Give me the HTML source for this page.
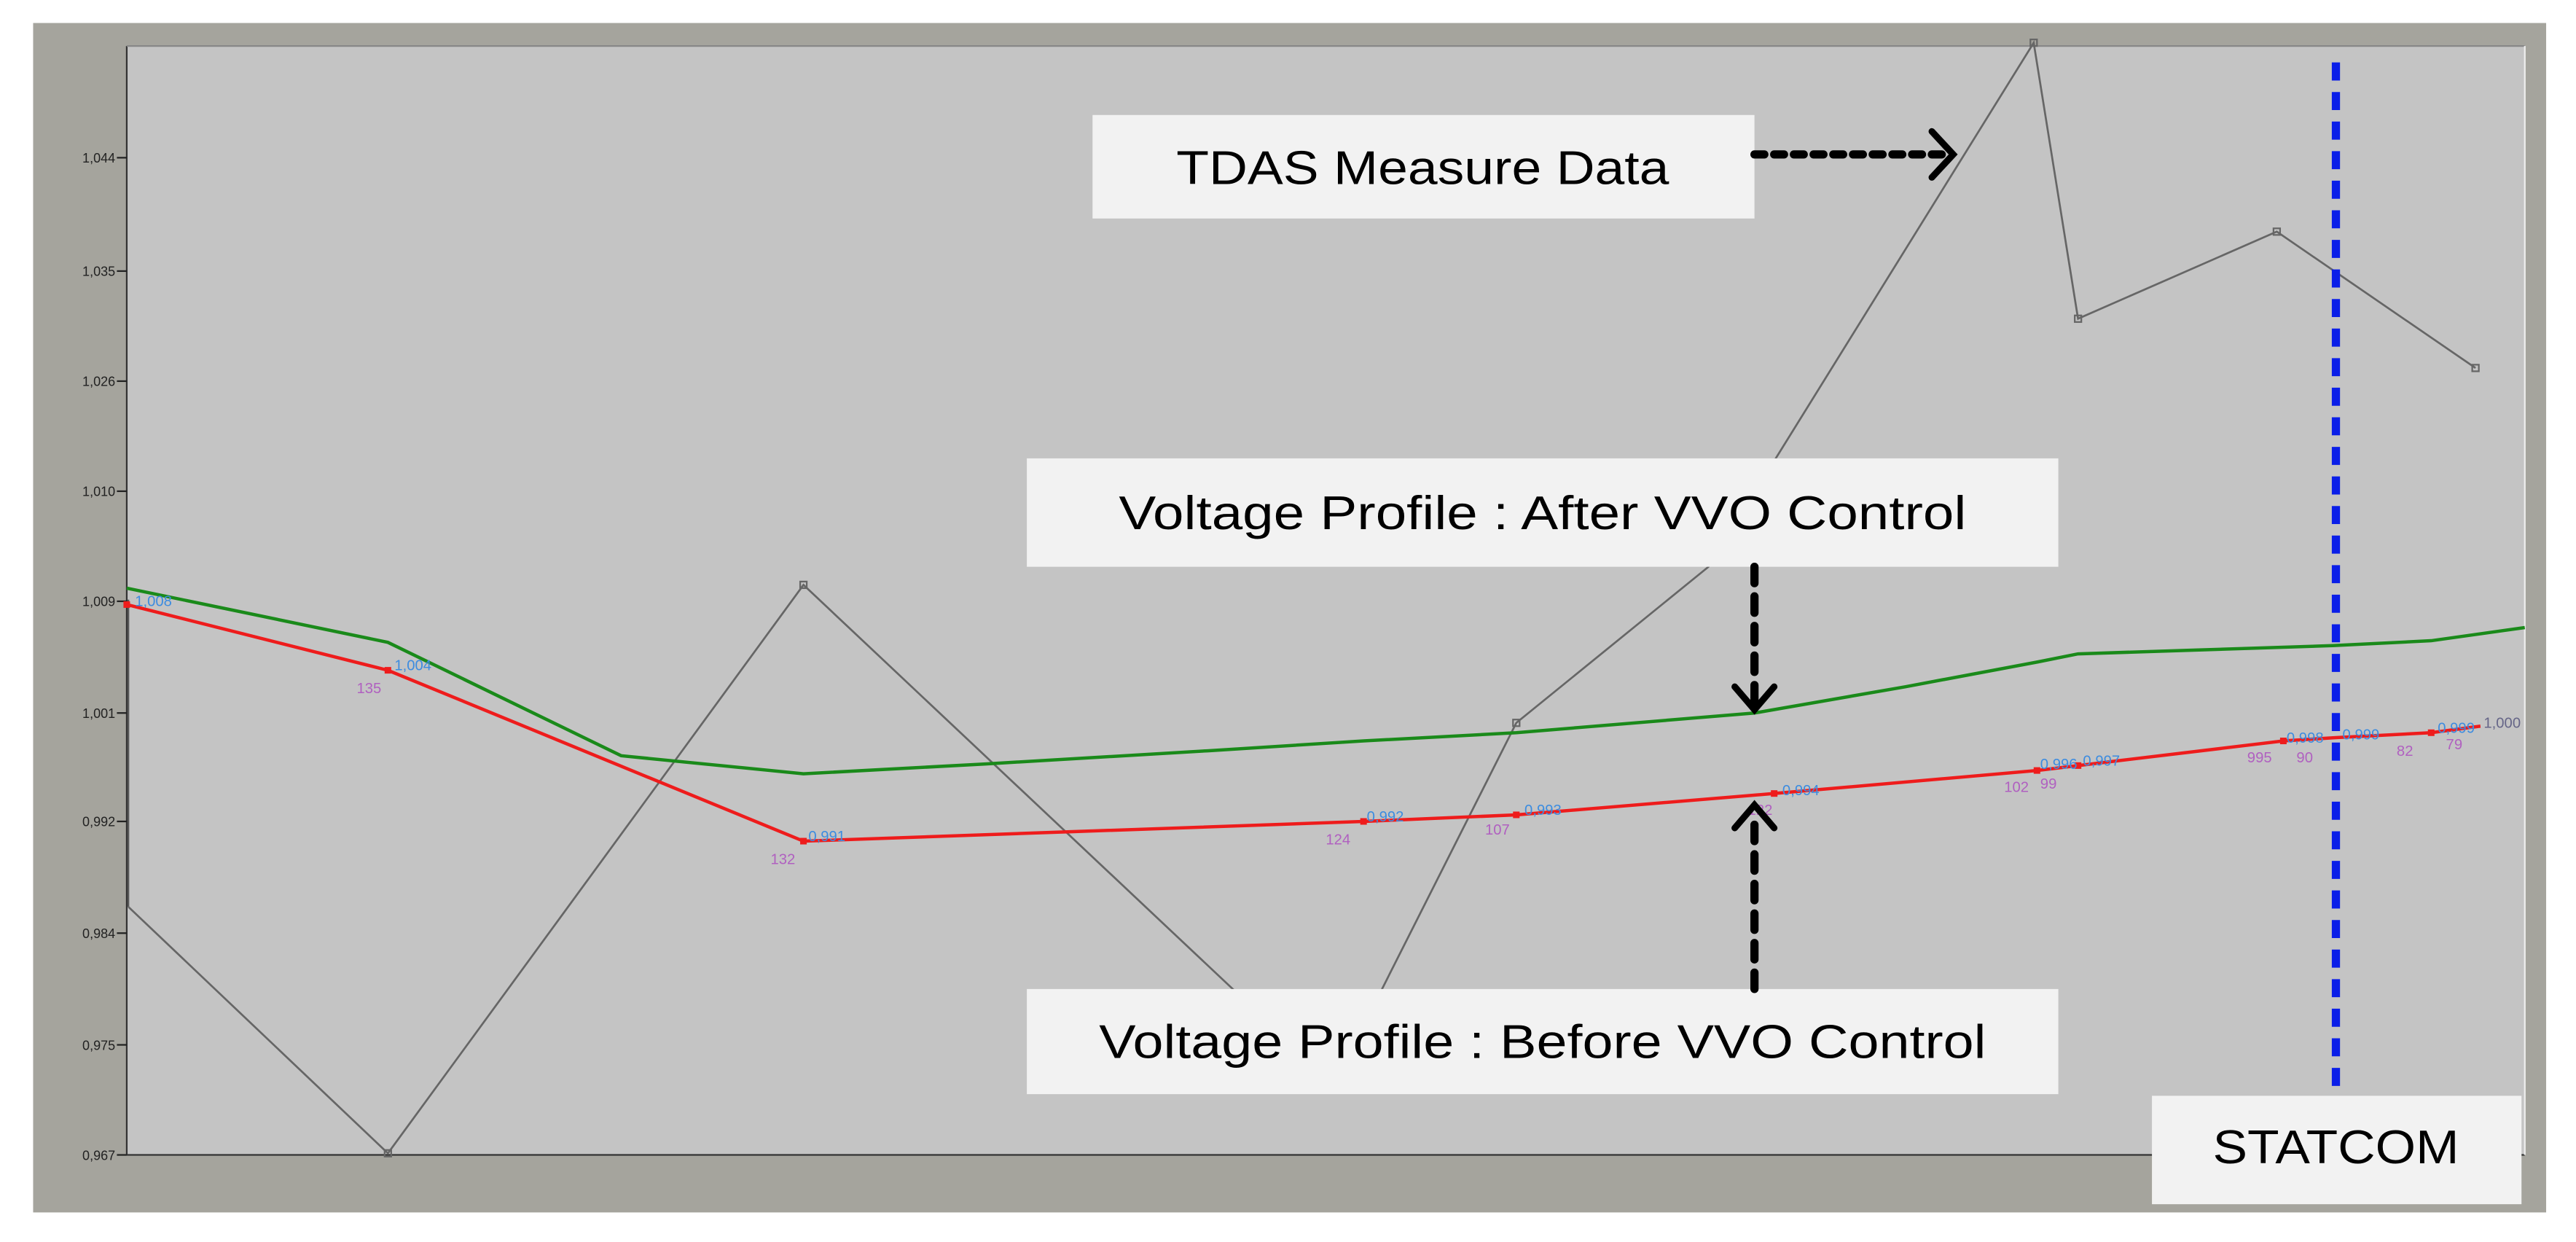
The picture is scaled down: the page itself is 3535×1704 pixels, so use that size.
<!DOCTYPE html>
<html><head><meta charset="utf-8"><style>
html,body{margin:0;padding:0;background:#fff;}
svg{display:block;}
</style></head><body>
<svg width="3535" height="1704" viewBox="0 0 1568 756" xmlns="http://www.w3.org/2000/svg" font-family="Liberation Sans, sans-serif">
<rect x="0" y="0" width="1568" height="756" fill="#fff"/>
<rect x="20" y="14" width="1530" height="724" fill="#a5a49d"/>
<rect x="77" y="28" width="1460" height="675" fill="#c4c4c4"/>
<line x1="77" y1="28" x2="77" y2="703" stroke="#333" stroke-width="1"/>
<line x1="77" y1="703" x2="1537" y2="703" stroke="#333" stroke-width="1"/>
<line x1="77" y1="28" x2="1537" y2="28" stroke="#888" stroke-width="1"/>
<line x1="1537" y1="28" x2="1537" y2="703" stroke="#eee" stroke-width="1"/>
<g font-size="8" fill="#222" text-anchor="end">
<text x="70" y="99">1,044</text><line x1="71" y1="96" x2="77" y2="96" stroke="#222"/>
<text x="70" y="168">1,035</text><line x1="71" y1="165" x2="77" y2="165" stroke="#222"/>
<text x="70" y="235">1,026</text><line x1="71" y1="232" x2="77" y2="232" stroke="#222"/>
<text x="70" y="302">1,010</text><line x1="71" y1="299" x2="77" y2="299" stroke="#222"/>
<text x="70" y="369">1,009</text><line x1="71" y1="366" x2="77" y2="366" stroke="#222"/>
<text x="70" y="437">1,001</text><line x1="71" y1="434" x2="77" y2="434" stroke="#222"/>
<text x="70" y="503">0,992</text><line x1="71" y1="500" x2="77" y2="500" stroke="#222"/>
<text x="70" y="571">0,984</text><line x1="71" y1="568" x2="77" y2="568" stroke="#222"/>
<text x="70" y="639">0,975</text><line x1="71" y1="636" x2="77" y2="636" stroke="#222"/>
<text x="70" y="706">0,967</text><line x1="71" y1="703" x2="77" y2="703" stroke="#222"/>
</g>
<line x1="78" y1="365" x2="78" y2="552" stroke="#555" stroke-width="1"/>
<polyline fill="none" stroke="#666" stroke-width="1.2" points="78,552 236,702 489,356 812,660 923,440 1040,345 1238,26 1265,194 1386,141 1507,224"/>
<g fill="none" stroke="#666" stroke-width="1"><rect x="234" y="700" width="4" height="4"/><rect x="487" y="354" width="4" height="4"/><rect x="921" y="438" width="4" height="4"/><rect x="1236" y="24" width="4" height="4"/><rect x="1263" y="192" width="4" height="4"/><rect x="1384" y="139" width="4" height="4"/><rect x="1505" y="222" width="4" height="4"/></g>
<polyline fill="none" stroke="#1a8a1a" stroke-width="2" points="77,358 236,391 378,460 489,471 600,465 735,457 830,451 923,446 1068,434 1160,418 1240,403 1265,398 1420,393 1480,390 1537,382"/>
<polyline fill="none" stroke="#ee1c1c" stroke-width="2" points="77,368 236,408 489,512 830,500 923,496 1080,483 1240,469 1265,466 1390,451 1422,449 1480,446 1510,442"/>
<g fill="#ee1c1c"><rect x="75" y="366" width="4" height="4"/><rect x="234" y="406" width="4" height="4"/><rect x="487" y="510" width="4" height="4"/><rect x="828" y="498" width="4" height="4"/><rect x="921" y="494" width="4" height="4"/><rect x="1078" y="481" width="4" height="4"/><rect x="1238" y="467" width="4" height="4"/><rect x="1263" y="464" width="4" height="4"/><rect x="1388" y="449" width="4" height="4"/><rect x="1478" y="444" width="4" height="4"/></g>
<g font-size="9" fill="#3c8ce0">
<text x="82" y="369">1,008</text><text x="240" y="408">1,004</text><text x="492" y="512">0,991</text><text x="832" y="500">0,992</text><text x="928" y="496">0,993</text><text x="1085" y="484">0,994</text><text x="1242" y="468">0,996</text><text x="1268" y="466">0,997</text><text x="1392" y="452">0,998</text><text x="1426" y="450">0,999</text><text x="1484" y="446">0,999</text><text x="1512" y="443" fill="#668">1,000</text>
</g>
<g font-size="9" fill="#b060c0">
<text x="217" y="422">135</text><text x="469" y="526">132</text><text x="807" y="514">124</text><text x="904" y="508">107</text><text x="1064" y="496">122</text><text x="1220" y="482">102</text><text x="1242" y="480">99</text><text x="1368" y="464">995</text><text x="1398" y="464">90</text><text x="1459" y="460">82</text><text x="1489" y="456">79</text>
</g>
<line x1="1422" y1="38" x2="1422" y2="668" stroke="#0a1ee8" stroke-width="5" stroke-dasharray="11,7"/>
<g fill="#f2f2f2">
<rect x="665" y="70" width="403" height="63"/>
<rect x="625" y="279" width="628" height="66"/>
<rect x="625" y="602" width="628" height="64"/>
<rect x="1310" y="667" width="225" height="66"/>
</g>
<g fill="#000" font-size="29" text-anchor="middle">
<text x="866" y="112" textLength="300" lengthAdjust="spacingAndGlyphs">TDAS Measure Data</text>
<text x="939" y="322" textLength="516" lengthAdjust="spacingAndGlyphs">Voltage Profile : After VVO Control</text>
<text x="939" y="644" textLength="540" lengthAdjust="spacingAndGlyphs">Voltage Profile : Before VVO Control</text>
<text x="1422" y="708" textLength="150" lengthAdjust="spacingAndGlyphs">STATCOM</text>
</g>
<g stroke="#000" stroke-width="5" fill="none" stroke-linecap="round">
<line x1="1068" y1="94" x2="1182" y2="94" stroke-dasharray="6,6"/>
<polyline points="1176,80 1189,94 1176,108" stroke-width="4"/>
<line x1="1068" y1="345" x2="1068" y2="428" stroke-dasharray="10,8"/>
<polyline points="1056,418 1068,432 1080,418" stroke-width="4"/>
<line x1="1068" y1="602" x2="1068" y2="494" stroke-dasharray="10,8"/>
<polyline points="1056,504 1068,490 1080,504" stroke-width="4"/>
</g>
</svg>
</body></html>
